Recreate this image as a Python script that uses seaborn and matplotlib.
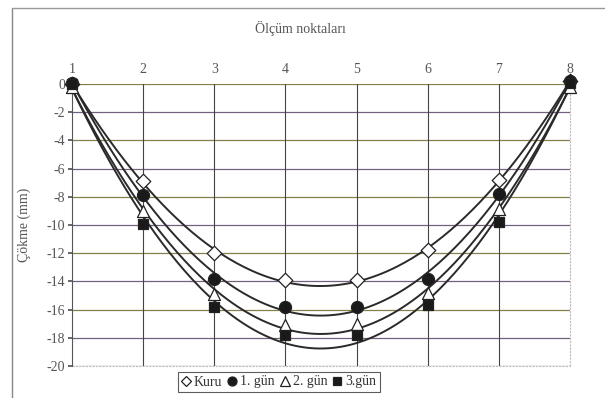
import numpy as np
import pandas as pd
import matplotlib
matplotlib.use("Agg")
import matplotlib.pyplot as plt
import seaborn as sns
from matplotlib.lines import Line2D

points = [1, 2, 3, 4, 5, 6, 7, 8]
kuru = [0.0, -6.9, -12.0, -13.9, -13.9, -11.8, -6.8, 0.2]
gun1 = [0.1, -7.9, -13.8, -15.8, -15.8, -13.8, -7.8, 0.2]
gun2 = [-0.2, -9.0, -14.9, -17.1, -17.0, -14.8, -8.9, -0.2]
gun3 = [0.0, -9.9, -15.8, -17.8, -17.8, -15.7, -9.8, 0.1]
series_names = ["Kuru", "1. gün", "2. gün", "3.gün"]
yticks = list(range(0, -21, -2))

sns.set_theme(style="white")
plt.rcParams['font.family'] = ['Liberation Serif', 'DejaVu Serif']

fig = plt.figure(figsize=(6.05, 3.98), dpi=100)
ax = fig.add_axes([72/605, 1-366/398, (570-72)/605, (366-84)/398])

# grid lines
hcols = ['#86804f', '#73607e']
for i, v in enumerate(yticks):
    ax.axhline(v, color=hcols[i % 2], lw=0.9, zorder=0)
for p in points[1:-1]:
    ax.axvline(p, color='#444444', lw=0.8, zorder=0)

markers = ['D', 'o', '^', 's']
faces = ['white', '#1a1a1a', 'white', '#1a1a1a']
sizes = [55, 75, 75, 55]
all_series = [kuru, gun1, gun2, gun3]
xs = np.linspace(1, 8, 200)
for name, vals, m, fc, s in zip(series_names, all_series, markers, faces, sizes):
    # 2nd-order polynomial trendline (as in the source chart)
    coef = np.polyfit(points, vals, 2)
    df = pd.DataFrame({'x': xs, 'y': np.polyval(coef, xs)})
    sns.lineplot(data=df, x='x', y='y', ax=ax, color='#2a2a2a', lw=1.4, sort=False,
                 zorder=2, clip_on=False, estimator=None)
    dfm = pd.DataFrame({'x': points, 'y': vals})
    sns.scatterplot(data=dfm, x='x', y='y', ax=ax, marker=m, color=fc, edgecolor='#222222',
                    linewidth=0.9, s=s, zorder=3, clip_on=False)

ax.set_xlim(1, 8)
ax.set_ylim(-20, 0)
ax.set_yticks(yticks)
ax.set_yticklabels([str(v) for v in yticks])
ax.set_xticks(points)
ax.xaxis.tick_top()
ax.tick_params(axis='x', top=False, bottom=False, length=0, labelsize=10, colors='#555555', pad=6)
ax.tick_params(axis='y', left=True, length=3, labelsize=10, colors='#555555', pad=2)
ax.set_xlabel('')
ax.set_ylabel('Çökme (mm)', fontsize=10, color='#555555', labelpad=11)
for sp in ['top', 'right', 'bottom']:
    ax.spines[sp].set_visible(False)
ax.spines['left'].set_color('#555555')
ax.spines['left'].set_linewidth(0.8)
ax.plot([1, 8], [-20, -20], color='#bbbbbb', lw=0.8, ls=(0, (2, 1)), clip_on=False, zorder=1)
ax.plot([8, 8], [-20, 0], color='#bbbbbb', lw=0.8, ls=(0, (2, 1)), clip_on=False, zorder=1)

fig.text(300/605, 1-28/398, 'Ölçüm noktaları', ha='center', va='center', fontsize=10, color='#555555')

# outer frame
fig.add_artist(Line2D([12/605, 12/605], [0, 1-8/398], transform=fig.transFigure, color='#888888', lw=1))
fig.add_artist(Line2D([12/605, 1], [1-8/398, 1-8/398], transform=fig.transFigure, color='#999999', lw=1))

handles = [Line2D([], [], marker=m, color='none', markerfacecolor=fc, markeredgecolor='#222222',
                  markersize=5.5 if m in ('D', 's') else 6.5, markeredgewidth=0.9)
           for m, fc in zip(markers, faces)]
leg = fig.legend(handles, series_names, loc='center', bbox_to_anchor=(279/605, 1-382/398), ncol=4,
                 frameon=True, fontsize=10, handlelength=0.6, handletextpad=0.3, columnspacing=0.4,
                 borderpad=0.25, borderaxespad=0, fancybox=False, edgecolor='#333333')
leg.get_frame().set_linewidth(0.8)
for t in leg.get_texts():
    t.set_color('#333333')

fig.savefig('out.png', dpi=100, facecolor='white')
